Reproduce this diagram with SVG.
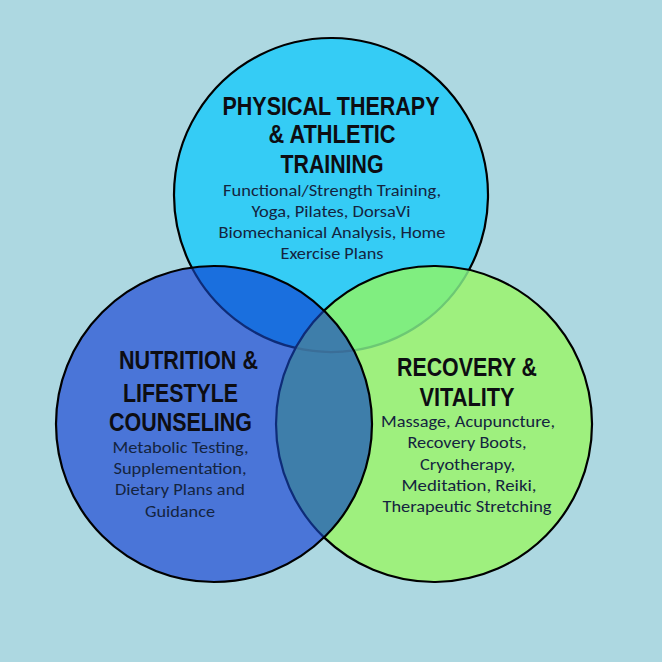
<svg xmlns="http://www.w3.org/2000/svg" width="662" height="662" viewBox="0 0 662 662">
<style>
.title{font-family:"Liberation Sans",Arial,sans-serif;font-weight:bold;font-size:25.5px;fill:#0d0d12;text-anchor:middle}
.body{font-family:Carlito,Calibri,Lato,"Liberation Sans",sans-serif;font-size:16.5px;fill:#14243f;text-anchor:middle}
.line{fill:none;stroke-width:2.2}
</style>
<defs>
<clipPath id="clipT"><circle cx="331" cy="195" r="157"/></clipPath>
<clipPath id="clipL"><circle cx="214" cy="424" r="158"/></clipPath>
</defs>
<rect width="662" height="662" fill="#ADD8E1"/>
<g id="node-physical">
<circle cx="331" cy="195" r="157" fill="#35CCF5"/>
<text class="title" x="331" y="115" textLength="217" lengthAdjust="spacingAndGlyphs">PHYSICAL THERAPY</text>
<text class="title" x="332" y="143" textLength="127" lengthAdjust="spacingAndGlyphs">&amp; ATHLETIC</text>
<text class="title" x="332" y="173" textLength="103" lengthAdjust="spacingAndGlyphs">TRAINING</text>
<text class="body" x="332" y="196" textLength="218" lengthAdjust="spacingAndGlyphs">Functional/Strength Training,</text>
<text class="body" x="331" y="217" textLength="159" lengthAdjust="spacingAndGlyphs">Yoga, Pilates, DorsaVi</text>
<text class="body" x="332" y="238" textLength="227" lengthAdjust="spacingAndGlyphs">Biomechanical Analysis, Home</text>
<text class="body" x="332" y="259" textLength="103" lengthAdjust="spacingAndGlyphs">Exercise Plans</text>
</g>
<g id="node-recovery">
<circle cx="434" cy="424" r="158" fill="#9EF07E"/>
<text class="title" x="467" y="376" textLength="140" lengthAdjust="spacingAndGlyphs">RECOVERY &amp;</text>
<text class="title" x="467" y="406" textLength="95" lengthAdjust="spacingAndGlyphs">VITALITY</text>
<text class="body" x="468" y="427" textLength="174" lengthAdjust="spacingAndGlyphs">Massage, Acupuncture,</text>
<text class="body" x="467" y="448" textLength="119" lengthAdjust="spacingAndGlyphs">Recovery Boots,</text>
<text class="body" x="467.5" y="470" textLength="95" lengthAdjust="spacingAndGlyphs">Cryotherapy,</text>
<text class="body" x="469" y="491" textLength="135" lengthAdjust="spacingAndGlyphs">Meditation, Reiki,</text>
<text class="body" x="467" y="512" textLength="169" lengthAdjust="spacingAndGlyphs">Therapeutic Stretching</text>
</g>
<g id="node-nutrition">
<circle cx="214" cy="424" r="158" fill="#4A75D8"/>
<text class="title" x="188.5" y="369" textLength="139" lengthAdjust="spacingAndGlyphs">NUTRITION &amp;</text>
<text class="title" x="180.5" y="402" textLength="115" lengthAdjust="spacingAndGlyphs">LIFESTYLE</text>
<text class="title" x="180.5" y="431" textLength="143" lengthAdjust="spacingAndGlyphs">COUNSELING</text>
<text class="body" x="180.5" y="453" textLength="136" lengthAdjust="spacingAndGlyphs">Metabolic Testing,</text>
<text class="body" x="180" y="474" textLength="133" lengthAdjust="spacingAndGlyphs">Supplementation,</text>
<text class="body" x="180" y="495" textLength="130" lengthAdjust="spacingAndGlyphs">Dietary Plans and</text>
<text class="body" x="180" y="517" textLength="70" lengthAdjust="spacingAndGlyphs">Guidance</text>
</g>
<g id="overlaps">
<circle cx="214" cy="424" r="158" fill="#1A6FDE" clip-path="url(#clipT)"/>
<circle cx="434" cy="424" r="158" fill="#80EE80" clip-path="url(#clipT)"/>
<circle cx="434" cy="424" r="158" fill="#3E7EAA" clip-path="url(#clipL)"/>
</g>
<g id="connectors">
<path class="line" stroke="#000" d="M191.78,267.57 A157,157 0 1 1 468.97,269.92"/>
<path class="line" stroke="#6CC874" stroke-width="1.6" d="M468.97,269.92 A157,157 0 0 1 353.78,350.35"/>
<path class="line" stroke="#3A6E98" stroke-width="1.6" d="M353.78,350.35 A157,157 0 0 1 295.51,347.94"/>
<path class="line" stroke="#0E2C78" d="M295.51,347.94 A157,157 0 0 1 191.78,267.57"/>
<path class="line" stroke="#0E2C78" d="M324,537.4 A158,158 0 0 1 324,310.6"/>
<path class="line" stroke="#000" d="M324,310.6 A158,158 0 1 1 324,537.4"/>
<circle class="line" stroke="#000" cx="214" cy="424" r="158"/>
</g>
</svg>
